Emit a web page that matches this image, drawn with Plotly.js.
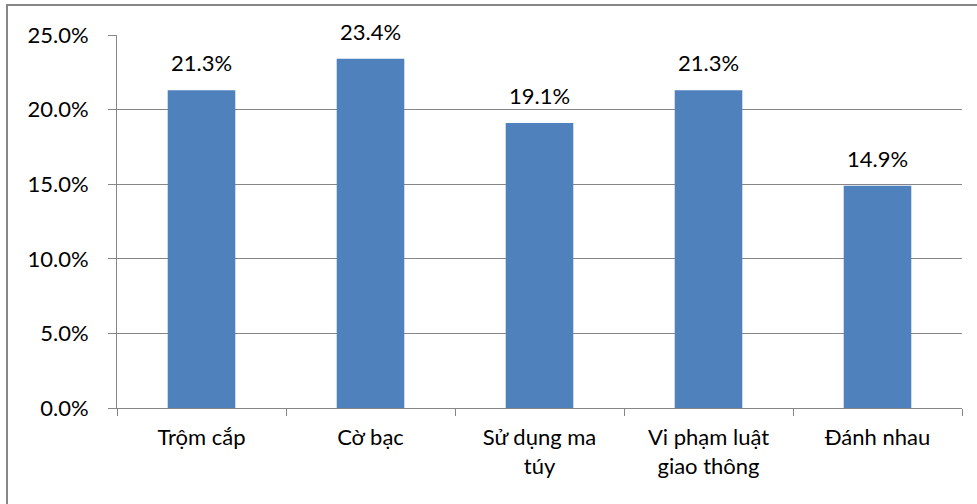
<!DOCTYPE html>
<html>
<head>
<meta charset="utf-8">
<script src="https://cdn.plot.ly/plotly-3.0.1.min.js"></script>
<style>html,body{margin:0;padding:0;background:#fff;}#chart{width:977px;height:504px;}</style>
</head>
<body>
<div id="chart"></div>
<script>
const categories = ["Trộm cắp", "Cờ bạc", "Sử dụng ma<br>túy", "Vi phạm luật<br>giao thông", "Đánh nhau"];
const values = [21.3, 23.4, 19.1, 21.3, 14.9];
const labels = ["21.3%", "23.4%", "19.1%", "21.3%", "14.9%"];
const titleText = "Biểu đồ 2: Những hành vi vi phạm pháp luật xuất hiện gần đây";

const FONT = "Lato, 'Open Sans', sans-serif";
const GRAY = "#868686";

const annotations = categories.map((c, i) => ({
  x: c, y: values[i], xref: "x", yref: "y",
  text: labels[i], showarrow: false,
  yanchor: "bottom", yshift: 12,
  font: {family: FONT, size: 22, color: "#000"}
}));
annotations.push({
  x: 0.55, y: 1.089, xref: "paper", yref: "paper",
  text: "<b><i>" + titleText + "</i></b>", showarrow: false, yanchor: "bottom", xanchor: "center",
  font: {family: "'Liberation Serif', 'DejaVu Serif', serif", size: 20, color: "#000"}
});

const data = [{
  type: "bar",
  x: categories,
  y: values,
  marker: {color: "#4F81BD"},
  hoverinfo: "none"
}];

const layout = {
  width: 977, height: 504,
  margin: {l: 117, r: 15, t: 35, b: 96},
  paper_bgcolor: "#fff", plot_bgcolor: "#fff",
  bargap: 0.6,
  showlegend: false,
  font: {family: FONT, size: 22, color: "#000"},
  xaxis: {
    type: "category",
    showline: true, linecolor: GRAY, linewidth: 1,
    ticks: "outside", tickson: "boundaries", ticklen: 7, tickcolor: GRAY, tickwidth: 1,
    showgrid: false,
    tickfont: {family: FONT, size: 22, color: "#000"},
    ticklabelstandoff: 10,
    fixedrange: true
  },
  yaxis: {
    range: [0, 25], dtick: 5, tick0: 0,
    tickformat: ".1f", ticksuffix: "%",
    showline: true, linecolor: GRAY, linewidth: 1,
    ticks: "outside", ticklen: 8, tickcolor: GRAY, tickwidth: 1,
    showgrid: true, gridcolor: GRAY, gridwidth: 1,
    zeroline: false,
    tickfont: {family: FONT, size: 22, color: "#000"},
    ticklabelstandoff: 15,
    fixedrange: true
  },
  annotations: annotations,
  shapes: [{
    type: "rect", xref: "paper", yref: "paper",
    x0: -0.1302, x1: 1.2, y0: -0.5, y1: 1.0804,
    line: {color: GRAY, width: 2}, fillcolor: "rgba(0,0,0,0)", layer: "below"
  }]
};

Plotly.newPlot("chart", data, layout, {displayModeBar: false, staticPlot: true});
</script>
</body>
</html>
